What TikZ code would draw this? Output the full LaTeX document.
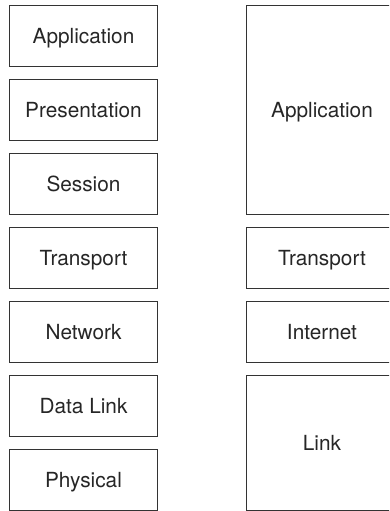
\documentclass[tikz,border=0pt]{standalone}
\usepackage{fontspec}
\setmainfont{TeX Gyre Heros}
\begin{document}
\begin{tikzpicture}[x=1pt,y=-1pt,
  layer/.style={draw=black!80, line width=1pt, text=black!85,
    font=\fontsize{20.8}{24}\selectfont, inner sep=0pt,
    text height=15pt, text depth=0pt},
  lbox/.style={layer, minimum width=148.4pt, minimum height=61pt},
  rbox/.style={layer, minimum width=152pt}]
\useasboundingbox (0,0) rectangle (389,511);
\clip (0,0) rectangle (389,511);
% OSI model (left)
\node[lbox] (oapp)  at (83.5, 36)  {Application};
\node[lbox] (opres) at (83.5, 110) {Presentation};
\node[lbox] (osess) at (83.5, 184) {Session};
\node[lbox] (otran) at (83.5, 258) {Transport};
\node[lbox] (onet)  at (83.5, 332) {Network};
\node[lbox] (odata) at (83.5, 406) {Data Link};
\node[lbox] (ophys) at (83.5, 480) {Physical};
% TCP/IP model (right)
\node[rbox, minimum height=208.5pt] (tapp)  at (322, 110.25) {Application};
\node[rbox, minimum height=61pt]    (ttran) at (322, 258)    {Transport};
\node[rbox, minimum height=61pt]    (tint)  at (322, 332)    {Internet};
\node[rbox, minimum height=135pt]   (tlink) at (322, 443)    {Link};
\end{tikzpicture}
\end{document}
